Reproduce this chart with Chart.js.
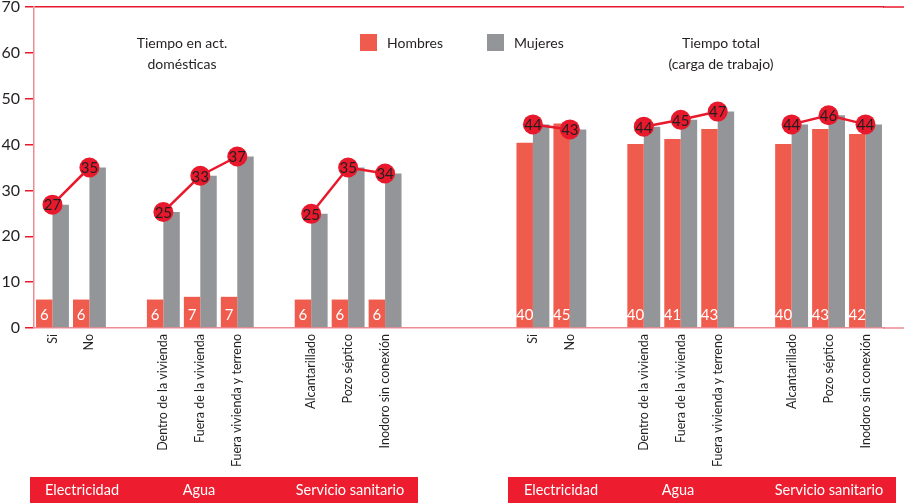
<!DOCTYPE html>
<html><head><meta charset="utf-8">
<script src="https://cdn.jsdelivr.net/npm/chart.js@4"></script>
<style>html,body{margin:0;padding:0;background:#fff;overflow:hidden}#wrap{width:904px;height:503px;position:relative}</style>
</head><body><div id="wrap"><canvas id="c" width="904" height="503"></canvas></div>
<script>
const categories = ['Si','No','','Dentro de la vivienda','Fuera de la vivienda','Fuera vivienda y terreno','','Alcantarillado','Pozo séptico','Inodoro sin conexión','','','','Si','No','','Dentro de la vivienda','Fuera de la vivienda','Fuera vivienda y terreno','','Alcantarillado','Pozo séptico','Inodoro sin conexión'];
const hombres = [6.2,6.2,null,6.2,6.8,6.8,null,6.2,6.2,6.2,null,null,null,40.4,44.6,null,40.1,41.2,43.4,null,40.1,43.4,42.3];
const mujeres = [26.9,35.0,null,25.3,33.2,37.4,null,24.9,35.0,33.7,null,null,null,44.4,43.3,null,43.9,45.4,47.2,null,44.4,46.4,44.4];
const yTicks = [0,10,20,30,40,50,60,70];
const seriesNames = ['Hombres','Mujeres'];
const panelTitles = [['Tiempo en act.','domésticas'],['Tiempo total','(carga de trabajo)']];
const bandLabels = ['Electricidad','Agua','Servicio sanitario'];

const RED='#e8192c', BAR_RED='#ef5b4c', GREY='#939598', PINK='#ef8b95', TXT='#231f20', BAND='#ed1c2e';
const FONT='Lato, "Open Sans", sans-serif';

const deco = {
  id:'deco',
  afterDatasetsDraw(chart){
    const c=chart.ctx, ca=chart.chartArea, y=chart.scales.y;
    c.save();
    c.lineWidth=1.5;
    c.strokeStyle=RED; c.beginPath(); c.moveTo(ca.right-1,y.getPixelForValue(70)); c.lineTo(904,y.getPixelForValue(70)); c.stroke();
    c.strokeStyle=PINK; c.beginPath(); c.moveTo(ca.right-1,y.getPixelForValue(0)); c.lineTo(904,y.getPixelForValue(0)); c.stroke();
    c.fillStyle='#fff'; c.font='15px '+FONT; c.textAlign='center'; c.textBaseline='middle';
    chart.getDatasetMeta(1).data.forEach((el,i)=>{ if(hombres[i]==null) return; c.fillText(String(Math.round(hombres[i])), el.x, y.getPixelForValue(0)-13); });
    c.fillStyle=TXT; c.font='15px '+FONT;
    chart.getDatasetMeta(0).data.forEach((el,i)=>{ if(mujeres[i]==null) return; c.fillText(String(Math.round(mujeres[i])), el.x, el.y+1); });
    c.fillStyle=TXT; c.font='14px '+FONT;
    c.fillText(panelTitles[0][0],182,43); c.fillText(panelTitles[0][1],182,64);
    c.fillText(panelTitles[1][0],721,43); c.fillText(panelTitles[1][1],721,64);
    c.fillStyle=BAR_RED; c.fillRect(360,34,17,17);
    c.fillStyle=GREY; c.fillRect(487,34,17,17);
    c.fillStyle=TXT; c.textAlign='left';
    c.fillText(seriesNames[0],387,43); c.fillText(seriesNames[1],514,43);
    c.fillStyle=BAND; c.fillRect(30,477,388,26); c.fillRect(508,477,388,26);
    c.fillStyle='#fff'; c.textAlign='center'; c.font='14.5px '+FONT;
    [[82,199,350],[561,678,829]].forEach(xs=>xs.forEach((x,k)=>c.fillText(bandLabels[k],x,490)));
    c.restore();
  }
};

new Chart(document.getElementById('c'),{
  type:'bar',
  data:{labels:categories,datasets:[
    {type:'line',label:'Mujeres',data:mujeres,borderColor:RED,borderWidth:2.5,pointRadius:10,pointHoverRadius:10,pointBackgroundColor:RED,pointBorderWidth:0,spanGaps:false,tension:0,order:0,clip:false},
    {label:seriesNames[0],data:hombres,backgroundColor:BAR_RED,categoryPercentage:0.89,barPercentage:1,order:1},
    {label:seriesNames[1],data:mujeres,backgroundColor:GREY,categoryPercentage:0.89,barPercentage:1,order:1}
  ]},
  options:{
    responsive:false,animation:false,
    layout:{autoPadding:false,padding:{top:7,right:20,left:0,bottom:0}},
    plugins:{legend:{display:false},tooltip:{enabled:false}},
    scales:{
      x:{grid:{display:false,drawTicks:false},border:{color:PINK,width:1.5},
         ticks:{autoSkip:false,maxRotation:90,minRotation:90,padding:6,color:TXT,font:{family:FONT,size:12.5}},
         afterFit(s){s.height=175;}},
      y:{min:0,max:70,afterBuildTicks(s){s.ticks=yTicks.map(v=>({value:v}));},
         ticks:{padding:5,color:TXT,font:{family:FONT,size:16}},
         grid:{color:c=>(c.tick&&c.tick.value===70)?RED:'rgba(0,0,0,0)',tickColor:RED,tickLength:9,lineWidth:1.5},
         border:{color:PINK,width:1.5},
         afterFit(s){s.width=34;s.paddingTop=0;s.paddingBottom=0;}}
    }
  },
  plugins:[deco]
});
</script></body></html>
